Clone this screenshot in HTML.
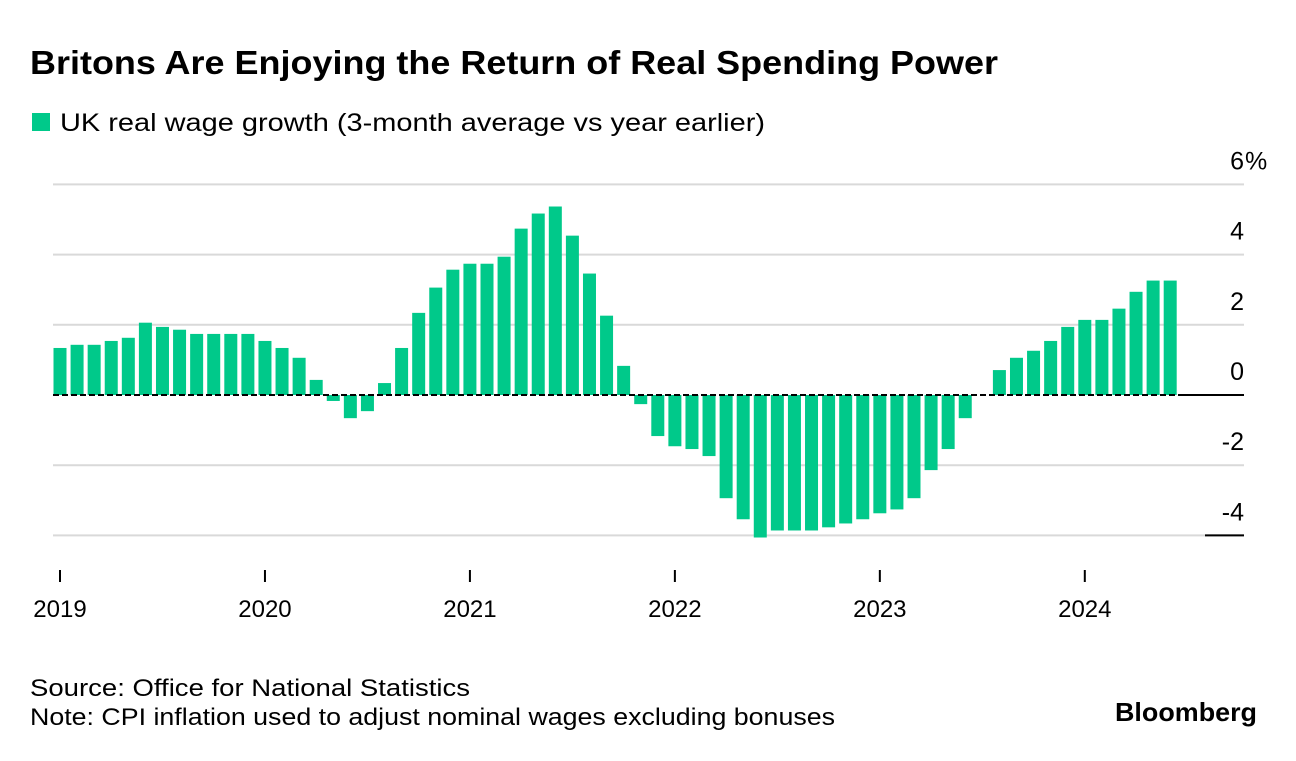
<!DOCTYPE html>
<html><head><meta charset="utf-8"><style>
body{margin:0;background:#fff;width:1296px;height:756px;overflow:hidden;font-family:"Liberation Sans",Arial,sans-serif;}
svg text{font-family:"Liberation Sans",Arial,sans-serif;}
</style></head><body>
<svg width="1296" height="756">
<text x="30" y="74" font-size="33" font-weight="bold" fill="#000" textLength="968" lengthAdjust="spacingAndGlyphs">Britons Are Enjoying the Return of Real Spending Power</text>
<rect x="32" y="113" width="18" height="18" fill="#00c98a"/>
<text x="60" y="131" font-size="25" fill="#000" textLength="705" lengthAdjust="spacingAndGlyphs">UK real wage growth (3-month average vs year earlier)</text>
<g id="grid"></g><g id="bars"></g><g id="axes"></g>
<text x="30" y="696" font-size="24" fill="#000" textLength="440" lengthAdjust="spacingAndGlyphs">Source: Office for National Statistics</text>
<text x="30" y="725" font-size="24" fill="#000" textLength="805" lengthAdjust="spacingAndGlyphs">Note: CPI inflation used to adjust nominal wages excluding bonuses</text>
<text x="1115" y="721" font-size="26" font-weight="bold" fill="#000" textLength="142" lengthAdjust="spacingAndGlyphs">Bloomberg</text>
</svg>
<script>
const values=[1.34,1.43,1.43,1.54,1.63,2.06,1.94,1.86,1.74,1.74,1.74,1.74,
1.54,1.34,1.06,0.43,-0.17,-0.66,-0.46,0.34,1.34,2.34,3.06,3.57,
3.74,3.74,3.94,4.74,5.17,5.37,4.54,3.46,2.26,0.83,-0.26,-1.17,
-1.46,-1.54,-1.74,-2.94,-3.54,-4.06,-3.86,-3.86,-3.86,-3.77,-3.66,-3.54,
-3.37,-3.26,-2.94,-2.14,-1.54,-0.66,0,0.71,1.06,1.26,1.54,1.94,
2.14,2.14,2.46,2.94,3.26,3.26];
const yTicks=[6,4,2,0,-2,-4];
const years=["2019","2020","2021","2022","2023","2024"];
const NS="http://www.w3.org/2000/svg";
const y=v=>395-v*35.1;
const x=i=>60+i*17.08;
function mk(tag,attrs,parent){const e=document.createElementNS(NS,tag);for(const k in attrs)e.setAttribute(k,attrs[k]);document.getElementById(parent).appendChild(e);return e;}
yTicks.forEach(t=>{
  if(t!==0){const l=mk('line',{x1:53,x2:1244,y1:y(t),y2:y(t),stroke:'#d9d9d9','stroke-width':2},'grid');
  
  }
  const tx=mk('text',{x:1244,y:y(t)-15,'font-size':25,'text-anchor':'end',fill:'#000'},'axes');
  tx.textContent=String(t);
  
  
  if(t===6){const p=mk('text',{x:1245,y:y(t)-15,'font-size':25,fill:'#000'},'axes');p.textContent='%';
  
  }
});
const bl=mk('line',{x1:1205,x2:1244,y1:y(-4),y2:y(-4),stroke:'#000','stroke-width':2},'axes');


values.forEach((v,i)=>{
  const r=mk('rect',{x:x(i)-6.5,width:13,y:Math.min(y(v),y(0)),height:Math.abs(y(v)-y(0)),fill:'#00c98a'},'bars');
  
  
});
const z1=mk('line',{x1:53,x2:1180,y1:y(0),y2:y(0),stroke:'#000','stroke-width':2,'stroke-dasharray':'6,3'},'axes');


const z2=mk('line',{x1:1180,x2:1244,y1:y(0),y2:y(0),stroke:'#000','stroke-width':2},'axes');


years.forEach((yr,k)=>{
  const xx=x(k*12);
  const t=mk('line',{x1:xx,x2:xx,y1:570,y2:582,stroke:'#000','stroke-width':2},'axes');
  
  
  const tx=mk('text',{x:xx,y:617,'font-size':24,'text-anchor':'middle',fill:'#000'},'axes');
  tx.textContent=yr;
  
  
});
</script>
</body></html>
